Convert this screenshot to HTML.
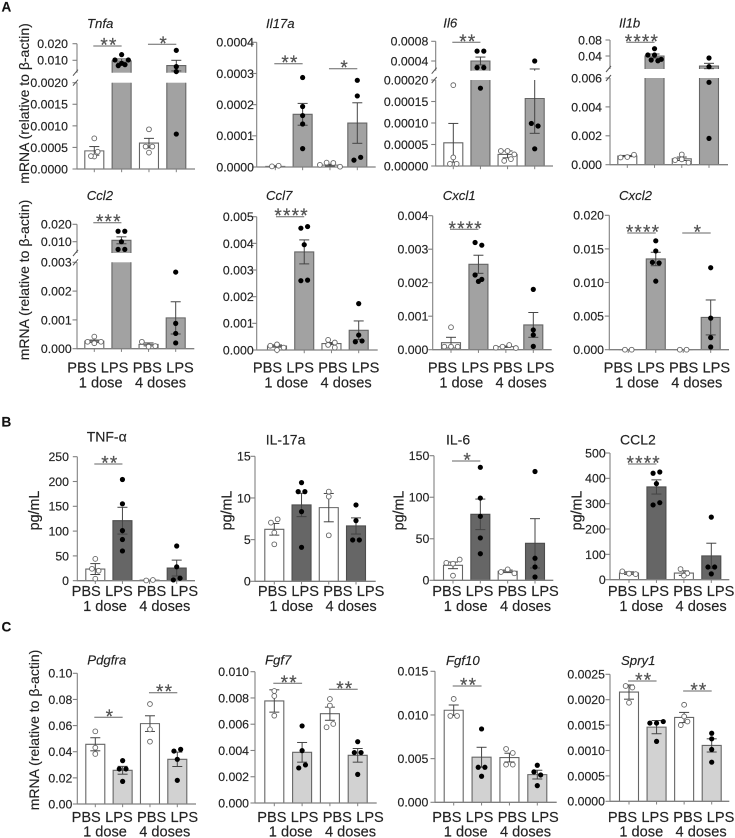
<!DOCTYPE html>
<html lang="en">
<head>
<meta charset="utf-8">
<title>mRNA and protein bar charts</title>
<style>
html,body{margin:0;padding:0;background:#fff;}
svg{display:block;width:735px;height:838px;filter:blur(0.3px);font-family:"Liberation Sans",Arial,sans-serif;fill:#222;}
svg text{stroke:#2a2a2a;stroke-width:0.16px;}
</style>
</head>
<body>
<svg id="figure" xmlns="http://www.w3.org/2000/svg" width="735" height="838" viewBox="0 0 735 838">
  <text x="1.5" y="11.5" font-size="13.5" font-weight="700" fill="#111">A</text>
  <text x="1.5" y="426.7" font-size="13.5" font-weight="700" fill="#111">B</text>
  <text x="1.5" y="631.7" font-size="13.5" font-weight="700" fill="#111">C</text>
  <text transform="translate(29,103.5) rotate(-90)" text-anchor="middle" font-size="14">mRNA (relative to β-actin)</text>
  <text transform="translate(29,280) rotate(-90)" text-anchor="middle" font-size="14">mRNA (relative to β-actin)</text>
  <text transform="translate(39,730) rotate(-90)" text-anchor="middle" font-size="14">mRNA (relative to β-actin)</text>
  <text transform="translate(39,510.5) rotate(-90)" text-anchor="middle" font-size="14.3">pg/mL</text>
  <text transform="translate(231.7,510.5) rotate(-90)" text-anchor="middle" font-size="14.3">pg/mL</text>
  <text transform="translate(403.3,510.5) rotate(-90)" text-anchor="middle" font-size="14.3">pg/mL</text>
  <text transform="translate(581.7,510.5) rotate(-90)" text-anchor="middle" font-size="14.3">pg/mL</text>
</svg>
<script>
// ---------- shared categories ----------
const categories = ['PBS', 'LPS', 'PBS', 'LPS'];
const doseGroups = ['1 dose', '4 doses'];

// ---------- Tnfa ----------
const tnfaTicks = ['0.0000', '0.0005', '0.0010', '0.0015', '0.0020'];
const tnfaUpperTicks = ['0.010', '0.020'];
const tnfaBars = [0.00042, 0.0096, 0.0006, 0.0068];
const tnfaErrs = [0.0001, 0.0012, 0.00011, 0.0032];
const tnfaDots = [[0.00071, 0.00029, 0.0003, 0.0004], [0.0134, 0.0102, 0.0082, 0.0102, 0.0068, 0.0074], [0.00092, 0.00052, 0.00052, 0.00038], [0.016, 0.0062, 0.0032, 0.00081]];
const tnfaStars = ['**', '*'];

// ---------- Il17a ----------
const il17aTicks = ['0.0000', '0.0001', '0.0002', '0.0003', '0.0004'];
const il17aBars = [0.000002, 0.000169, 0.000006, 0.000141];
const il17aErrs = [0.000002, 0.000035, 0.000003, 0.000065];
const il17aDots = [[0.000002, 0.000004], [0.000287, 0.000194, 0.000165, 0.000138, 0.000059], [0.000007, 0.000014, 0.000013, 0.000001], [0.000278, 0.000228, 0.000022, 0.000031]];
const il17aStars = ['**', '*'];

// ---------- Il6 ----------
const il6Ticks = ['0.00000', '0.00005', '0.00010', '0.00015', '0.00020'];
const il6UpperTicks = ['0.0004', '0.0008'];
const il6Bars = [0.000054, 0.0004, 0.000027, 0.000157];
const il6Errs = [0.000045, 0.00008, 0.000008, 0.000081];
const il6Dots = [[0.000188, 0.00002, 0.000005, 0.000005], [0.0006, 0.0006, 0.000265, 0.000265, 0.000181], [0.000035, 0.000035, 0.000027, 0.000012, 0.000016], [0.0004, 0.000099, 0.000093, 0.00004]];
const il6Stars = ['**'];

// ---------- Il1b ----------
const il1bTicks = ['0.000', '0.002', '0.004', '0.006'];
const il1bUpperTicks = ['0.04', '0.08'];
const il1bBars = [0.0006, 0.04, 0.00041, 0.015];
const il1bErrs = [0.00004, 0.005, 0.00012, 0.0067];
const il1bDots = [[0.0005, 0.00053, 0.00069], [0.0583, 0.0425, 0.0425, 0.03, 0.0317, 0.028], [0.00071, 0.00032, 0.00037, 0.00014], [0.035, 0.0133, 0.0057, 0.00182]];
const il1bStars = ['****'];

// ---------- Ccl2 ----------
const ccl2Ticks = ['0.000', '0.001', '0.002', '0.003'];
const ccl2UpperTicks = ['0.010', '0.020'];
const ccl2Bars = [0.00026, 0.0108, 0.00015, 0.00107];
const ccl2Errs = [0.00004, 0.002, 0.00005, 0.00056];
const ccl2Dots = [[0.00042, 0.00024, 0.00019, 0.00024], [0.016, 0.016, 0.01, 0.0056, 0.0056], [0.00024, 0.00009, 0.00009, 0.00007], [0.00266, 0.00088, 0.00053, 0.0002]];
const ccl2Stars = ['***'];

// ---------- Ccl7 ----------
const ccl7Ticks = ['0.000', '0.001', '0.002', '0.003', '0.004', '0.005'];
const ccl7Bars = [0.00015, 0.00368, 0.00024, 0.00074];
const ccl7Errs = [0.00004, 0.00045, 0.00004, 0.00035];
const ccl7Dots = [[0.00016, 0.00021, 0.00009, 0], [0.00457, 0.00463, 0.00395, 0.0026, 0.00262], [0.00038, 0.00028, 0.00019, 0.00009], [0.00174, 0.00056, 0.00031, 0.00034]];
const ccl7Stars = ['****'];

// ---------- Cxcl1 ----------
const cxcl1Ticks = ['0.000', '0.001', '0.002', '0.003', '0.004'];
const cxcl1Bars = [0.00021, 0.00255, 0.00009, 0.00074];
const cxcl1Errs = [0.00016, 0.00027, 0.00002, 0.00037];
const cxcl1Dots = [[0.00067, 0.00009, 0.00009, 0.00009], [0.0032, 0.00312, 0.00223, 0.00204, 0.0021], [0.00006, 0.00009, 0.00014, 0.00005], [0.0018, 0.00059, 0.00044, 0.0001]];
const cxcl1Stars = ['****'];

// ---------- Cxcl2 ----------
const cxcl2Ticks = ['0.000', '0.005', '0.010', '0.015', '0.020'];
const cxcl2Bars = [0.00002, 0.0135, 0.00002, 0.0048];
const cxcl2Errs = [0, 0.001, 0, 0.0026];
const cxcl2Dots = [[0, 0], [0.0162, 0.0147, 0.013, 0.0129, 0.0102], [0, 0], [0.0122, 0.0047, 0.0018, 0.0004]];
const cxcl2Stars = ['****', '*'];

// ---------- TNF-alpha protein ----------
const tnfProteinTicks = ['0', '50', '100', '150', '200', '250'];
const tnfProteinBars = [23.5, 121, 1, 25.5];
const tnfProteinErrs = [11, 27, 0, 16];
const tnfProteinDots = [[44, 24, 20, 4], [204, 155, 101, 83, 60], [0.5, 1.5], [70, 28, 1.5, 5]];
const tnfProteinStars = ['**'];

// ---------- IL-17a protein ----------
const il17ProteinTicks = ['0', '5', '10', '15'];
const il17ProteinBars = [6.24, 9.16, 8.84, 6.64];
const il17ProteinErrs = [0.7, 1.4, 1.7, 0.97];
const il17ProteinDots = [[7.04, 7.44, 5.84, 4.44], [11.84, 10.76, 10.76, 8.36, 4.08], [10.76, 10.16, 5.52], [9.16, 7.28, 4.96, 4.96]];
const il17ProteinStars = [];

// ---------- IL-6 protein ----------
const il6ProteinTicks = ['0', '50', '100', '150'];
const il6ProteinBars = [18, 79.4, 10.8, 44.5];
const il6ProteinErrs = [4, 18.4, 1.5, 29.7];
const il6ProteinDots = [[21, 20, 25, 5.6], [136, 99, 77, 51, 32], [10, 13.2, 8.4], [131, 26.5, 16, 4]];
const il6ProteinStars = ['*'];

// ---------- CCL2 protein ----------
const ccl2ProteinTicks = ['0', '100', '200', '300', '400', '500'];
const ccl2ProteinBars = [26, 366, 26, 94];
const ccl2ProteinErrs = [5, 28, 9, 50];
const ccl2ProteinDots = [[33, 24, 22], [420, 425, 379, 295, 304], [42, 25, 16], [247, 50, 50, 23]];
const ccl2ProteinStars = ['****'];

// ---------- Pdgfra ----------
const pdgfraTicks = ['0.00', '0.02', '0.04', '0.06', '0.08', '0.10'];
const pdgfraBars = [0.0457, 0.0258, 0.0615, 0.0342];
const pdgfraErrs = [0.005, 0.003, 0.006, 0.0055];
const pdgfraDots = [[0.0556, 0.0431, 0.0383], [0.0332, 0.0268, 0.0268, 0.0173], [0.0765, 0.0571, 0.0477], [0.0405, 0.0418, 0.0342, 0.0181]];
const pdgfraStars = ['*', '**'];

// ---------- Fgf7 ----------
const fgf7Ticks = ['0.000', '0.002', '0.004', '0.006', '0.008', '0.010'];
const fgf7Bars = [0.00777, 0.00386, 0.0068, 0.00363];
const fgf7Errs = [0.00085, 0.00075, 0.0005, 0.00052];
const fgf7Dots = [[0.00853, 0.00815, 0.00665], [0.00587, 0.00399, 0.00267, 0.0029], [0.00792, 0.00742, 0.00577, 0.00602], [0.00467, 0.00384, 0.00384, 0.00218]];
const fgf7Stars = ['**', '**'];

// ---------- Fgf10 ----------
const fgf10Ticks = ['0.000', '0.005', '0.010', '0.015'];
const fgf10Bars = [0.01054, 0.00516, 0.00512, 0.00317];
const fgf10Errs = [0.0006, 0.00114, 0.0005, 0.0005];
const fgf10Dots = [[0.01184, 0.00989, 0.00989], [0.0084, 0.00401, 0.00401, 0.00298], [0.00611, 0.00565, 0.00431, 0.00431], [0.00424, 0.00348, 0.00313, 0.00191]];
const fgf10Stars = ['**'];

// ---------- Spry1 ----------
const spry1Ticks = ['0.0000', '0.0005', '0.0010', '0.0015', '0.0020', '0.0025'];
const spry1Bars = [0.00215, 0.00146, 0.00165, 0.0011];
const spry1Errs = [0.00014, 0.00013, 0.0001, 0.00013];
const spry1Dots = [[0.00227, 0.00224, 0.00194], [0.00154, 0.00154, 0.00157, 0.00118], [0.0019, 0.00167, 0.0015, 0.00157], [0.00134, 0.00123, 0.00102, 0.00077]];
const spry1Stars = ['**', '**'];

// ---------- panel layout ----------
const GREY = '#a2a2a2', DARK = '#666666', LIGHT = '#d2d2d2';
const ROW2 = [372.7, 387.3], ROWB = [596, 611], ROWC = [822, 836.7];
const panels = [
  {id:'tnfa', title:'Tnfa', italic:1, tx:87, ty:28, ax:77, xEnd:195, y0:169, yLow:82.7, uBottom:72.7, upY:[60.3,43.7], bx:[94.3,176.3], gap:9, ticks:tnfaTicks, upTicks:tnfaUpperTicks, bars:tnfaBars, errs:tnfaErrs, dots:tnfaDots, fill:GREY, stars:tnfaStars, sigBar:[0,2], sigY:[46,44.3]},
  {id:'il17a', title:'Il17a', italic:1, tx:266, ty:28, ax:256.7, xEnd:375.7, y0:167, yLow:42.3, bx:[275.3,357.3], gap:2.7, ticks:il17aTicks, bars:il17aBars, errs:il17aErrs, dots:il17aDots, fill:GREY, stars:il17aStars, sigBar:[0,2], sigY:[63.7,68.7]},
  {id:'il6', title:'Il6', italic:1, tx:443.3, ty:27.7, ax:435.7, xEnd:553, y0:166, yLow:80, uBottom:70.7, upY:[61,41.3], bx:[453.3,534.7], gap:7.4, ticks:il6Ticks, upTicks:il6UpperTicks, bars:il6Bars, errs:il6Errs, dots:il6Dots, fill:GREY, stars:il6Stars, sigBar:[0], sigY:[42.3]},
  {id:'il1b', title:'Il1b', italic:1, tx:619, ty:27.7, ax:610, xEnd:728, y0:164.7, yLow:78, uBottom:69, upY:[56,40], bx:[627.3,709], gap:8, ticks:il1bTicks, upTicks:il1bUpperTicks, bars:il1bBars, errs:il1bErrs, dots:il1bDots, fill:GREY, stars:il1bStars, sigBar:[0], sigY:[42.3]},
  {id:'ccl2', title:'Ccl2', italic:1, tx:86.7, ty:200, ax:77, xEnd:194.3, y0:348.7, yLow:262.3, uBottom:253, upY:[241.7,224.3], bx:[94.3,175.7], gap:5.3, ticks:ccl2Ticks, upTicks:ccl2UpperTicks, bars:ccl2Bars, errs:ccl2Errs, dots:ccl2Dots, fill:GREY, stars:ccl2Stars, sigBar:[0], sigY:[222.7], lx:67.7, ly:ROW2},
  {id:'ccl7', title:'Ccl7', italic:1, tx:266, ty:200, ax:256.7, xEnd:377.7, y0:350, yLow:216.7, bx:[277,358.7], gap:3, ticks:ccl7Ticks, bars:ccl7Bars, errs:ccl7Errs, dots:ccl7Dots, fill:GREY, stars:ccl7Stars, sigBar:[0], sigY:[216.7], lx:253.3, ly:ROW2},
  {id:'cxcl1', title:'Cxcl1', italic:1, tx:442.7, ty:200, ax:432.7, xEnd:551.7, y0:349.7, yLow:215.7, bx:[451,533.3], gap:4.4, ticks:cxcl1Ticks, bars:cxcl1Bars, errs:cxcl1Errs, dots:cxcl1Dots, fill:GREY, stars:cxcl1Stars, sigBar:[0], sigY:[229.3], lx:428.3, ly:ROW2},
  {id:'cxcl2', title:'Cxcl2', italic:1, tx:619, ty:200, ax:609.3, xEnd:729, y0:349.7, yLow:215.3, bx:[628.3,710.7], gap:5.3, ticks:cxcl2Ticks, bars:cxcl2Bars, errs:cxcl2Errs, dots:cxcl2Dots, fill:GREY, stars:cxcl2Stars, sigBar:[0,2], sigY:[233,233], lx:604, ly:ROW2},
  {id:'tnf-protein', title:'TNF-α', tx:86.7, ty:441.7, ax:77.3, xEnd:195, y0:580.7, yLow:456.7, bx:[95.3,176.7], gap:8.3, ticks:tnfProteinTicks, bars:tnfProteinBars, errs:tnfProteinErrs, dots:tnfProteinDots, fill:DARK, stars:tnfProteinStars, sigBar:[0], sigY:[464], lx:72, ly:ROWB},
  {id:'il17-protein', title:'IL-17a', tx:265.7, ty:444.3, ax:255, xEnd:375.7, y0:581.3, yLow:456.3, bx:[274.3,356], gap:4.3, ticks:il17ProteinTicks, bars:il17ProteinBars, errs:il17ProteinErrs, dots:il17ProteinDots, fill:DARK, stars:il17ProteinStars, sigBar:[], sigY:[], lx:258.3, ly:ROWB},
  {id:'il6-protein', title:'IL-6', tx:446, ty:444.3, ax:434, xEnd:553.3, y0:580.3, yLow:455.7, bx:[453,535], gap:4.7, ticks:il6ProteinTicks, bars:il6ProteinBars, errs:il6ProteinErrs, dots:il6ProteinDots, fill:DARK, stars:il6ProteinStars, sigBar:[0], sigY:[461], lx:432.7, ly:ROWB},
  {id:'ccl2-protein', title:'CCL2', tx:620, ty:444.3, ax:610, xEnd:729.3, y0:579.7, yLow:453, bx:[629,711.3], gap:4.3, ticks:ccl2ProteinTicks, bars:ccl2ProteinBars, errs:ccl2ProteinErrs, dots:ccl2ProteinDots, fill:DARK, stars:ccl2ProteinStars, sigBar:[0], sigY:[464], lx:608.3, ly:ROWB},
  {id:'pdgfra', title:'Pdgfra', italic:1, tx:87.3, ty:664.3, ax:77.3, xEnd:196, y0:804, yLow:673.3, bx:[95.3,177.3], gap:5, ticks:pdgfraTicks, bars:pdgfraBars, errs:pdgfraErrs, dots:pdgfraDots, fill:LIGHT, stars:pdgfraStars, sigBar:[0,2], sigY:[717.3,692.7], lx:72, ly:ROWC},
  {id:'fgf7', title:'Fgf7', italic:1, tx:265, ty:664.3, ax:255, xEnd:376.7, y0:803, yLow:671.7, bx:[274.3,357.7], gap:6, ticks:fgf7Ticks, bars:fgf7Bars, errs:fgf7Errs, dots:fgf7Dots, fill:LIGHT, stars:fgf7Stars, sigBar:[0,2], sigY:[683.3,689.3], lx:257.7, ly:ROWC},
  {id:'fgf10', title:'Fgf10', italic:1, tx:446, ty:665, ax:435, xEnd:556.7, y0:802.3, yLow:671.3, bx:[453.7,537.3], gap:6.7, ticks:fgf10Ticks, bars:fgf10Bars, errs:fgf10Errs, dots:fgf10Dots, fill:LIGHT, stars:fgf10Stars, sigBar:[0], sigY:[686], lx:432.7, ly:ROWC},
  {id:'spry1', title:'Spry1', italic:1, tx:621, ty:665, ax:610, xEnd:729.3, y0:801.3, yLow:674.3, bx:[629,711.7], gap:5, ticks:spry1Ticks, bars:spry1Bars, errs:spry1Errs, dots:spry1Dots, fill:LIGHT, stars:spry1Stars, sigBar:[0,2], sigY:[681,691], lx:608.3, ly:ROWC}
];

// ---------- drawing ----------
const NS = 'http://www.w3.org/2000/svg';
const AXIS = '#808080', EDGE = '#666666', TEXT = '#222222';
const figure = document.getElementById('figure');

function make(parent, tag, attrs) {
  const node = document.createElementNS(NS, tag);
  for (const key in attrs) node.setAttribute(key, attrs[key]);
  parent.appendChild(node);
  return node;
}

function yScale(p) {
  const lowMax = parseFloat(p.ticks[p.ticks.length - 1]);
  const broken = !!p.upTicks;
  const a = broken ? parseFloat(p.upTicks[0]) : 0;
  const b = broken ? parseFloat(p.upTicks[1]) : 1;
  const fn = function (v) {
    if (!broken || v <= lowMax) return p.y0 - (v / lowMax) * (p.y0 - p.yLow);
    return p.upY[0] + ((v - a) / (b - a)) * (p.upY[1] - p.upY[0]);
  };
  fn.lowMax = lowMax;
  fn.broken = broken;
  return fn;
}

function xScale(p) {
  return function (i) { return p.bx[0] + (i / 3) * (p.bx[1] - p.bx[0]); };
}

function swarmOffsets(values, y) {
  const order = values.map(function (v, i) { return i; }).sort(function (m, n) { return values[n] - values[m]; });
  const offsets = new Array(values.length).fill(0);
  let group = [];
  function flush() {
    const sorted = group.slice().sort(function (m, n) { return m - n; });
    sorted.forEach(function (idx, k) { offsets[idx] = (k - (sorted.length - 1) / 2) * 6.7; });
    group = [];
  }
  order.forEach(function (idx) {
    if (group.length && Math.abs(y(values[idx]) - y(values[group[0]])) >= 4.5) flush();
    group.push(idx);
  });
  if (group.length) flush();
  return offsets;
}

function drawPanel(p) {
  const y = yScale(p);
  const x = xScale(p);
  const g = make(figure, 'g', {});
  
  

  const title = make(g, 'text', {x: p.tx, y: p.ty, 'font-size': p.italic ? 13.2 : 14, 'font-style': p.italic ? 'italic' : 'normal', fill: TEXT});
  
  
  title.textContent = p.title;

  // bars
  p.bars.forEach(function (v, i) {
    const cx = x(i), w = 19, left = cx - w / 2, right = cx + w / 2;
    const fill = i % 2 === 0 ? '#ffffff' : p.fill;
    const edge = i % 2 === 0 ? EDGE : (p.fill === DARK ? '#4d4d4d' : EDGE);
    let d;
    if (y.broken && v > y.lowMax) {
      const top = y(v);
      d = 'M' + left + ' ' + p.y0 + 'V' + p.yLow + 'M' + right + ' ' + p.y0 + 'V' + p.yLow +
          'M' + left + ' ' + p.uBottom + 'V' + top + 'H' + right + 'V' + p.uBottom;
      const upper = make(g, 'rect', {x: left, y: top, width: w, height: p.uBottom - top, fill: fill});
      
      
      const lower = make(g, 'rect', {x: left, y: p.yLow, width: w, height: p.y0 - p.yLow, fill: fill});
      
      
    } else {
      const top = y(v);
      d = 'M' + left + ' ' + p.y0 + 'V' + top + 'H' + right + 'V' + p.y0;
      const rect = make(g, 'rect', {x: left, y: top, width: w, height: Math.max(0, p.y0 - top), fill: fill});
      
      
    }
    const outline = make(g, 'path', {d: d, fill: 'none', stroke: edge, 'stroke-width': 1.1});
    
    
  });

  // axes
  const yLine = make(g, 'line', {x1: p.ax, x2: p.ax, y1: p.y0 + 0.5, y2: p.yLow, stroke: AXIS, 'stroke-width': 1.1});
  
  
  const xLine = make(g, 'line', {x1: p.ax, x2: p.xEnd, y1: p.y0, y2: p.y0, stroke: AXIS, 'stroke-width': 1.3});
  
  

  function drawYTick(label, py) {
    const tick = make(g, 'line', {x1: p.ax - 4.5, x2: p.ax, y1: py, y2: py, stroke: AXIS, 'stroke-width': 1.1});
    
    
    const txt = make(g, 'text', {x: p.ax - p.gap, y: py + 4.4, 'text-anchor': 'end', 'font-size': 12.3, fill: TEXT});
    
    
    txt.textContent = label;
  }
  p.ticks.forEach(function (label) { drawYTick(label, y(parseFloat(label))); });

  if (y.broken) {
    p.upTicks.forEach(function (label) { drawYTick(label, y(parseFloat(label))); });
    const upLine = make(g, 'line', {x1: p.ax, x2: p.ax, y1: p.uBottom, y2: p.upY[1], stroke: AXIS, 'stroke-width': 1.1});
    
    
    [p.uBottom, p.yLow].forEach(function (by) {
      const slash = make(g, 'line', {x1: p.ax - 4, x2: p.ax + 1, y1: by + 3, y2: by - 3, stroke: '#555555', 'stroke-width': 1});
      
      
    });
  }

  categories.forEach(function (c, i) {
    const tick = make(g, 'line', {x1: x(i), x2: x(i), y1: p.y0, y2: p.y0 + 3.2, stroke: AXIS, 'stroke-width': 1});
    
    
  });

  // error bars
  p.bars.forEach(function (v, i) {
    const e = p.errs[i], cx = x(i), hi = v + e, lo = v - e;
    if (e <= 0) return;
    const segs = [];
    if (y.broken && hi > y.lowMax && lo <= y.lowMax) {
      segs.push([y(lo), p.yLow]);
      segs.push([p.uBottom, y(hi)]);
    } else {
      segs.push([y(lo), y(hi)]);
    }
    segs.forEach(function (s) {
      const stem = make(g, 'line', {x1: cx, x2: cx, y1: s[0], y2: s[1], stroke: '#444444', 'stroke-width': 1});
      
      
    });
    [y(lo), y(hi)].forEach(function (py) {
      const cap = make(g, 'line', {x1: cx - 5, x2: cx + 5, y1: py, y2: py, stroke: '#444444', 'stroke-width': 1});
      
      
    });
  });

  // data points
  p.dots.forEach(function (values, i) {
    const offsets = swarmOffsets(values, y);
    values.forEach(function (v, k) {
      const open = i % 2 === 0;
      const dot = make(g, 'circle', {cx: x(i) + offsets[k], cy: y(v), r: open ? 2.4 : 2.6, fill: open ? '#ffffff' : '#000000', stroke: open ? '#666666' : 'none', 'stroke-width': 0.9});
      
      
    });
  });

  // significance
  p.stars.forEach(function (s, k) {
    const i = p.sigBar[k], ly = p.sigY[k];
    const line = make(g, 'line', {x1: x(i) - 1, x2: x(i + 1), y1: ly, y2: ly, stroke: '#666666', 'stroke-width': 1});
    
    
    const txt = make(g, 'text', {x: (x(i) + x(i + 1)) / 2 + 1, y: ly + 5.5, 'text-anchor': 'middle', 'font-size': 19, 'letter-spacing': 1.2, fill: '#555555'});
    
    
    txt.textContent = s;
  });

  // x labels
  if (p.lx !== undefined) {
    categories.forEach(function (c, i) {
      const txt = make(g, 'text', {x: p.lx + 14.2 + i * 32.7, y: p.ly[0], 'text-anchor': 'middle', 'font-size': 14.6, fill: TEXT});
      
      
      txt.textContent = c;
    });
    doseGroups.forEach(function (c, i) {
      const txt = make(g, 'text', {x: p.lx + 33 + i * 59.8, y: p.ly[1], 'text-anchor': 'middle', 'font-size': 14.6, fill: TEXT});
      
      
      txt.textContent = c;
    });
  }
}

panels.forEach(drawPanel);
</script>
</body>
</html>
